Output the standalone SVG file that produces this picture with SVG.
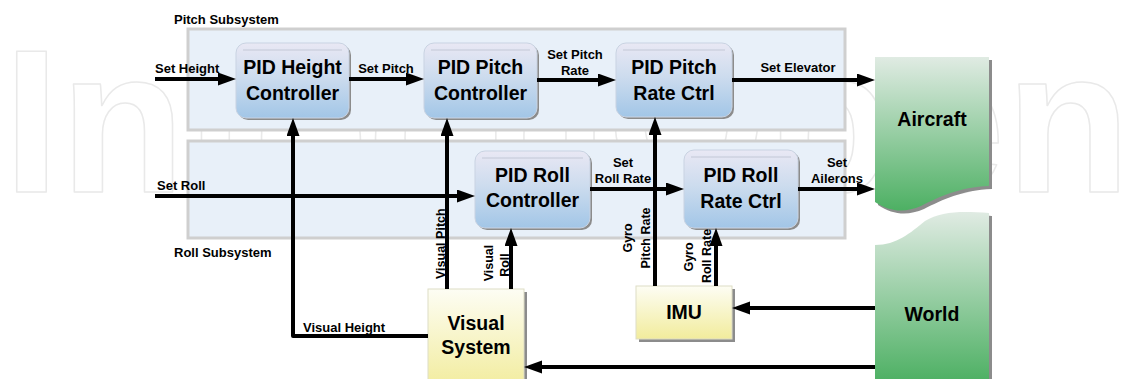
<svg xmlns="http://www.w3.org/2000/svg" width="1135" height="379" viewBox="0 0 1135 379">
<defs>
<style>
text{font-family:"Liberation Sans",Arial,Helvetica,sans-serif;font-weight:bold;fill:#000}
.lbl{font-size:13px}
.rl{font-size:12.5px}
.nt{font-size:19.5px;text-anchor:middle}
.mid{text-anchor:middle}
.panel{fill:#e8f0f9;stroke:#cfcfcf;stroke-width:3}
.shadow{fill:#8c8c8c}
.blue{fill:url(#gBlue);stroke:#c9d3e2;stroke-width:1}
.gloss{stroke:#c3c8d6;stroke-width:1}
.yel{fill:url(#gYel);stroke:#deddc6;stroke-width:1}
.grn{fill:url(#gGrn)}
.conn{fill:none;stroke:#000;stroke-width:4;stroke-linejoin:round;marker-end:url(#ah)}
.wm{font-family:"Liberation Sans",Arial,sans-serif;font-weight:bold;font-size:205px;fill:none;stroke:#e9e9e9;stroke-width:1.5;stroke-linejoin:round}
</style>
<linearGradient id="gBlue" x1="0" y1="0" x2="0" y2="1">
<stop offset="0" stop-color="#e9e8f4"/>
<stop offset="0.45" stop-color="#cddcee"/>
<stop offset="1" stop-color="#a2c6e7"/>
</linearGradient>
<linearGradient id="gYel" x1="0" y1="0" x2="0" y2="1">
<stop offset="0" stop-color="#fdfdf4"/>
<stop offset="1" stop-color="#f2ec9c"/>
</linearGradient>
<linearGradient id="gGrn" x1="0" y1="0" x2="0" y2="1">
<stop offset="0" stop-color="#e0ebe3"/>
<stop offset="1" stop-color="#4db063"/>
</linearGradient>
<marker id="ah" markerUnits="userSpaceOnUse" markerWidth="20" markerHeight="14" refX="12" refY="6.5" orient="auto">
<path d="M0,0 L18,6.5 L0,13 Z" fill="#000"/>
</marker>
</defs>
<rect width="1135" height="379" fill="#fff"/>
<text class="wm" x="3" y="192">IntechOpen</text>

<g id="pitch-subsystem">
<rect class="panel" x="188" y="29" width="657" height="101"/>
<text class="lbl" x="174" y="24">Pitch Subsystem</text>
</g>
<g id="roll-subsystem">
<rect class="panel" x="188" y="141" width="657" height="97"/>
<text class="lbl" x="174" y="257">Roll Subsystem</text>
</g>

<g id="pid-height">
<rect class="shadow" x="238" y="45" width="113" height="75" rx="10"/>
<rect class="blue" x="236" y="43" width="113" height="75" rx="10"/>
<line class="gloss" x1="243" y1="50" x2="342" y2="50"/>
<text class="nt" x="292.5" y="74">PID Height</text>
<text class="nt" x="292.5" y="100">Controller</text>
</g>
<g id="pid-pitch">
<rect class="shadow" x="426" y="45" width="113" height="75" rx="10"/>
<rect class="blue" x="424" y="43" width="113" height="75" rx="10"/>
<line class="gloss" x1="431" y1="50" x2="530" y2="50"/>
<text class="nt" x="480.5" y="74">PID Pitch</text>
<text class="nt" x="480.5" y="100">Controller</text>
</g>
<g id="pid-pitch-rate">
<rect class="shadow" x="618" y="45" width="116" height="74" rx="10"/>
<rect class="blue" x="616" y="43" width="116" height="74" rx="10"/>
<line class="gloss" x1="623" y1="50" x2="725" y2="50"/>
<text class="nt" x="674" y="74">PID Pitch</text>
<text class="nt" x="674" y="100">Rate Ctrl</text>
</g>
<g id="pid-roll">
<rect class="shadow" x="477" y="153" width="115" height="77" rx="10"/>
<rect class="blue" x="475" y="151" width="115" height="77" rx="10"/>
<line class="gloss" x1="482" y1="158" x2="583" y2="158"/>
<text class="nt" x="532.5" y="182">PID Roll</text>
<text class="nt" x="532.5" y="207">Controller</text>
</g>
<g id="pid-roll-rate">
<rect class="shadow" x="686" y="152" width="114" height="78" rx="10"/>
<rect class="blue" x="684" y="150" width="114" height="78" rx="10"/>
<line class="gloss" x1="691" y1="157" x2="791" y2="157"/>
<text class="nt" x="741" y="182">PID Roll</text>
<text class="nt" x="741" y="208">Rate Ctrl</text>
</g>

<g id="aircraft">
<path d="M878,60 H992 V189 C962,190 942,200 924,209 C908,216 893,215 878,205 Z" fill="#8c8c8c"/>
<path class="grn" d="M875,57 H989 V186 C959,187 939,197 921,206 C905,213 890,212 875,202 Z"/>
<text class="nt" x="932" y="126">Aircraft</text>
</g>
<g id="world">
<path d="M878,248 C900,248 913,236 928,224 C944,214 965,214 992,216 V382 H878 Z" fill="#8c8c8c"/>
<path class="grn" d="M875,245 C897,245 910,233 925,221 C941,211 962,211 989,213 V382 H875 Z"/>
<text class="nt" x="932" y="321">World</text>
</g>
<g id="visual-system">
<rect class="shadow" x="431" y="292" width="96" height="100"/>
<rect class="yel" x="428" y="289" width="96" height="100"/>
<text class="nt" x="476" y="330">Visual</text>
<text class="nt" x="476" y="354">System</text>
</g>
<g id="imu">
<rect class="shadow" x="639" y="289" width="96" height="53"/>
<rect class="yel" x="636" y="286" width="96" height="53"/>
<text class="nt" x="684" y="319">IMU</text>
</g>

<g id="connectors">
<path class="conn" d="M155,79 H230"/>
<path class="conn" d="M349,79 H418"/>
<path class="conn" d="M537,80 H610"/>
<path class="conn" d="M732,80 H869"/>
<path class="conn" d="M155,196 H469"/>
<path class="conn" d="M590,189 H678"/>
<path class="conn" d="M798,189 H869"/>
<path class="conn" d="M428,336 H293 V124"/>
<path class="conn" d="M447,289 V124"/>
<path class="conn" d="M511,289 V234"/>
<path class="conn" d="M655,286 V123"/>
<path class="conn" d="M716,286 V234"/>
<path class="conn" d="M875,308 H738"/>
<path class="conn" d="M875,367 H530"/>
</g>

<g id="labels">
<text class="lbl" x="155" y="73">Set Height</text>
<text class="lbl mid" x="386" y="73">Set Pitch</text>
<text class="lbl mid" x="575" y="59">Set Pitch</text>
<text class="lbl mid" x="575" y="75">Rate</text>
<text class="lbl mid" x="798" y="72">Set Elevator</text>
<text class="lbl" x="157" y="190">Set Roll</text>
<text class="lbl mid" x="623" y="167">Set</text>
<text class="lbl mid" x="623" y="183">Roll Rate</text>
<text class="lbl mid" x="837" y="167">Set</text>
<text class="lbl mid" x="837" y="183">Ailerons</text>
<text class="lbl" x="303" y="332">Visual Height</text>
<text class="rl" transform="translate(445,279) rotate(-90)">Visual Pitch</text>
<text class="rl mid" transform="translate(493,263) rotate(-90)">Visual</text>
<text class="rl mid" transform="translate(509,265) rotate(-90)">Roll</text>
<text class="rl mid" transform="translate(632,238) rotate(-90)">Gyro</text>
<text class="rl mid" transform="translate(650,238) rotate(-90)">Pitch Rate</text>
<text class="rl mid" transform="translate(693,257) rotate(-90)">Gyro</text>
<text class="rl mid" transform="translate(711,256) rotate(-90)">Roll Rate</text>
</g>
</svg>
